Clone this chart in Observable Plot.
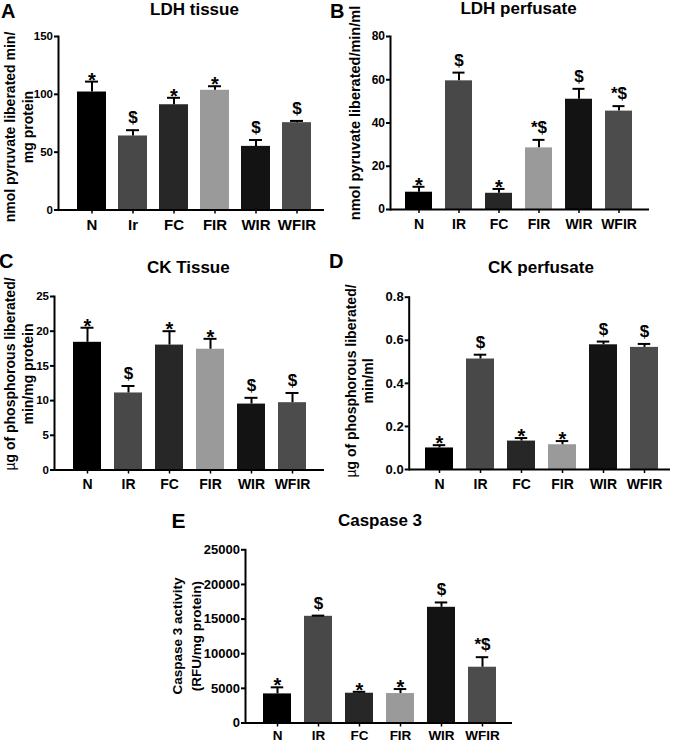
<!DOCTYPE html>
<html><head><meta charset="utf-8">
<script src="https://cdn.jsdelivr.net/npm/d3@7"></script>
<script src="https://cdn.jsdelivr.net/npm/@observablehq/plot@0.6"></script>
<style>
body{margin:0;background:#fff;}
#fig{position:relative;width:674px;height:743px;background:#fff;font-family:"Liberation Sans",Arial,sans-serif;font-weight:bold;color:#000;overflow:hidden;}
.abs{position:absolute;white-space:nowrap;line-height:1;}
.title{font-size:17px;transform:translateX(-50%);}
.letter{font-size:20px;}
.ylab{transform:translate(-50%,-50%) rotate(-90deg);text-align:center;}
.mu{font-weight:normal;}
</style></head><body><div id="fig"></div>
<script>
// ---- data ----
const groupsA = ["N", "Ir", "FC", "FIR", "WIR", "WFIR"];
const groups = ["N", "IR", "FC", "FIR", "WIR", "WFIR"];
const barColors = ["#000000", "#484848", "#272727", "#9a9a9a", "#131313", "#4c4c4c"];

const ldhTissue = [102, 64, 91, 103.5, 55, 75.5];
const ldhTissueErr = [9, 5, 6, 3.5, 5.5, 1.5];
const ldhTissueSig = ["*", "$", "*", "*", "$", "$"];
const ldhTissueTicks = [0, 50, 100, 150];

const ldhPerf = [8, 59.5, 7.5, 28.5, 51, 45.5];
const ldhPerfErr = [2.5, 3.8, 2, 3.7, 4.8, 2.3];
const ldhPerfSig = ["*", "$", "*", "*$", "$", "*$"];
const ldhPerfTicks = [0, 20, 40, 60, 80];

const ckTissue = [18.4, 11.1, 18.0, 17.4, 9.5, 9.7];
const ckTissueErr = [2.1, 1.0, 2.0, 1.5, 0.9, 1.4];
const ckTissueSig = ["*", "$", "*", "*", "$", "$"];
const ckTissueTicks = [0, 5, 10, 15, 20, 25];

const ckPerf = [0.100, 0.513, 0.132, 0.115, 0.579, 0.567];
const ckPerfErr = [0.013, 0.020, 0.014, 0.017, 0.015, 0.016];
const ckPerfSig = ["*", "$", "*", "*", "$", "$"];
const ckPerfTicks = [0, 0.2, 0.4, 0.6, 0.8];

const caspase = [4200, 15400, 4300, 4250, 16700, 8050];
const caspaseErr = [950, 100, 200, 650, 700, 1450];
const caspaseSig = ["*", "$", "*", "*", "$", "*$"];
const caspaseTicks = [0, 5000, 10000, 15000, 20000, 25000];

const FONT = '"Liberation Sans", Arial, sans-serif';
const fig = document.getElementById("fig");

function addText(cls, html, left, top, extra) {
  const d = document.createElement("div");
  d.className = "abs " + cls;
  d.innerHTML = html;
  d.style.left = left + "px";
  d.style.top = top + "px";
  if (extra) Object.assign(d.style, extra);
  fig.appendChild(d);
}

function panel(c) {
  const data = c.cats.map((cat, i) => ({cat, value: c.values[i], err: c.errs[i], sig: c.sig[i]}));
  const half = c.step / 2;
  const pad = 1 - c.barW / c.step;
  const cap = (c.barW - 13) / 2;
  const svg = Plot.plot({
    width: c.W, height: c.H,
    marginLeft: c.ml, marginRight: c.mr, marginTop: c.mt, marginBottom: c.mb,
    style: {fontFamily: FONT, fontWeight: "bold", color: "#000", background: "transparent", overflow: "visible"},
    x: {type: "band", domain: c.cats, range: [c.c0 - half, c.c0 + 5 * c.step + half], paddingInner: pad, paddingOuter: pad / 2, axis: null},
    y: {domain: [0, c.ymax], axis: null},
    color: {domain: c.cats, range: barColors},
    marks: [
      Plot.barY(data, {x: "cat", y: "value", fill: "cat"}),
      Plot.ruleX(data, {x: "cat", y1: "value", y2: d => d.value + d.err, stroke: "#000", strokeWidth: 2}),
      Plot.tickY(data, {x: "cat", y: d => d.value + d.err, insetLeft: cap, insetRight: cap, stroke: "#000", strokeWidth: 2}),
      Plot.text(data, {filter: d => d.sig === "*", x: "cat", y: d => d.value + d.err, text: "sig", lineAnchor: "bottom", dy: 5, fontSize: 20, fill: "#000"}),
      Plot.text(data, {filter: d => d.sig !== "*", x: "cat", y: d => d.value + d.err, text: "sig", lineAnchor: "bottom", dy: -7, fontSize: 17, fill: "#000"}),
      Plot.axisY({ticks: c.ticks, tickFormat: c.fmt, tickSize: 4, tickPadding: 1.5, fontSize: c.yfs, strokeWidth: 2, label: null}),
      Plot.axisX({tickSize: 4, tickPadding: c.xpad, fontSize: c.xfs, strokeWidth: 1.5, label: null}),
      Plot.frame({anchor: "left", strokeWidth: 2}),
      Plot.ruleY([0], {strokeWidth: 2})
    ]
  });
  const wrap = document.createElement("div");
  wrap.style.position = "absolute";
  wrap.style.left = c.sx + "px";
  wrap.style.top = c.sy + "px";
  wrap.style.width = c.W + "px";
  wrap.appendChild(svg);
  fig.appendChild(wrap);
}

panel({sx: 0, sy: 0, W: 337, H: 250, ml: 58, mr: 13, mt: 36, mb: 40.5, c0: 91.5, step: 41.1, barW: 29,
  cats: groupsA, values: ldhTissue, errs: ldhTissueErr, sig: ldhTissueSig, ymax: 150, ticks: ldhTissueTicks, fmt: d3.format("d"), yfs: 11.5, xfs: 15, xpad: 5.5});
panel({sx: 337, sy: 0, W: 337, H: 250, ml: 53, mr: 25, mt: 36, mb: 41, c0: 79.5, step: 40.9, barW: 28,
  cats: groups, values: ldhPerf, errs: ldhPerfErr, sig: ldhPerfSig, ymax: 80, ticks: ldhPerfTicks, fmt: d3.format("d"), yfs: 12, xfs: 14, xpad: 5.5});
panel({sx: 0, sy: 250, W: 337, H: 250, ml: 54, mr: 13, mt: 46, mb: 30.5, c0: 86.3, step: 41.2, barW: 28,
  cats: groups, values: ckTissue, errs: ckTissueErr, sig: ckTissueSig, ymax: 25, ticks: ckTissueTicks, fmt: d3.format("d"), yfs: 11.5, xfs: 14, xpad: 5.5});
panel({sx: 337, sy: 250, W: 337, H: 250, ml: 71.7, mr: 4, mt: 46.7, mb: 31, c0: 102, step: 41.1, barW: 28.5,
  cats: groups, values: ckPerf, errs: ckPerfErr, sig: ckPerfSig, ymax: 0.8, ticks: ckPerfTicks, fmt: d3.format(".1f"), yfs: 13, xfs: 14, xpad: 5.5});
panel({sx: 150, sy: 490, W: 370, H: 253, ml: 95, mr: 8, mt: 59.3, mb: 20.5, c0: 127, step: 41.2, barW: 28.5,
  cats: groups, values: caspase, errs: caspaseErr, sig: caspaseSig, ymax: 25000, ticks: caspaseTicks, fmt: d3.format("d"), yfs: 13, xfs: 13.5, xpad: 3.5});

// panel letters
addText("letter", "A", 1, 1);
addText("letter", "B", 330, 1);
addText("letter", "C", -1, 251);
addText("letter", "D", 329, 251);
addText("letter", "E", 171.5, 510, {fontSize: "21px"});

// titles
addText("title", "LDH tissue", 194.5, 1);
addText("title", "LDH perfusate", 518.5, 0);
addText("title", "CK Tissue", 188.3, 259);
addText("title", "CK perfusate", 541, 259);
addText("title", "Caspase 3", 380, 512);

// y-axis labels
addText("ylab", "nmol pyruvate liberated min/<br>mg protein", 19, 127, {fontSize: "14px", lineHeight: "17.5px"});
addText("ylab", "nmol pyruvate liberated/min/ml", 354.5, 112.5, {fontSize: "14.5px"});
addText("ylab", '<span class="mu">&#181;</span>g of phosphorous liberated/<br>min/mg protein', 19, 374, {fontSize: "14px", lineHeight: "17.5px"});
addText("ylab", '<span class="mu">&#181;</span>g of phosphorous liberated/<br>min/ml', 360, 381, {fontSize: "14px", lineHeight: "17px"});
addText("ylab", "Caspase 3 activity<br>(RFU/mg protein)", 187, 636, {fontSize: "13.5px", lineHeight: "18.5px"});
</script>
</body></html>
